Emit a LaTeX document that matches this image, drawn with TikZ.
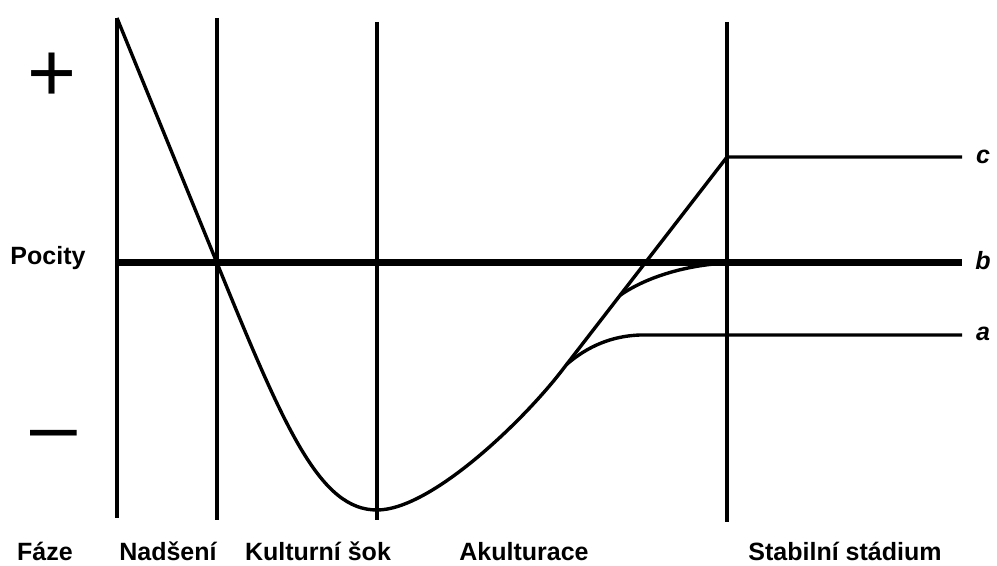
\documentclass[tikz,border=0pt]{standalone}
\usepackage{fontspec}
\setmainfont{Liberation Sans}
\usetikzlibrary{calc}
\begin{document}
\begin{tikzpicture}[x=0.5pt,y=-0.5pt,
 phase/.style={font=\fontsize{12.5}{14}\selectfont\bfseries,inner sep=0pt,anchor=base},
 tag/.style={font=\fontsize{12.5}{14}\selectfont\bfseries\itshape,inner sep=0pt},
 sign/.style={font=\fontsize{42}{42}\selectfont,inner sep=0pt},
 divider/.style={line width=2pt},
 level/.style={line width=3.5pt},
 curve/.style={line width=1.7pt,line join=round}]
\useasboundingbox (0,0) rectangle (997,566);
\foreach \x/\t/\b in {117/18/518,217/18/520,377/22/520,727/22/522}
  \draw[divider] (\x,\t) -- (\x,\b);
\draw[level] (117,263) -- (962,263);
\node[sign] (plus) at (52,77) {+};
\node[sign,anchor=base] (minus) at (54,455) {–};
\node[phase,anchor=center] (pocity) at (48,258) {Pocity};
\node[phase] (faze) at (45,561) {Fáze};
\node[phase] (nadseni) at (168,561) {Nadšení};
\node[phase] (sok) at (318,561) {Kulturní šok};
\node[phase] (akult) at (524,561) {Akulturace};
\node[phase] (stab) at (845,561) {Stabilní stádium};
\node[tag] (c) at (983,157) {c};
\node[tag] (b) at (983,261) {b};
\node[tag] (a) at (983,334) {a};
\coordinate (top) at (117,18);
\coordinate (cross) at (217,263);
\coordinate (low) at (377,510);
\coordinate (bend) at (560,373);
\coordinate (peak) at (727,157);
\coordinate (ja) at ($(bend)!0.04!(peak)$);
\coordinate (jb) at ($(bend)!0.36!(peak)$);
\draw[curve] (top) -- (cross) .. controls (285,430) and (320,510) .. (low)
  .. controls (430,510) and (520,424) .. (bend) -- (peak) -- (962,157);
\draw[curve] (ja) .. controls (588,346) and (612,336) .. (640,335) -- (962,335);
\draw[curve] (jb) .. controls (648,276) and (688,265) .. (727,263);
\end{tikzpicture}
\end{document}
